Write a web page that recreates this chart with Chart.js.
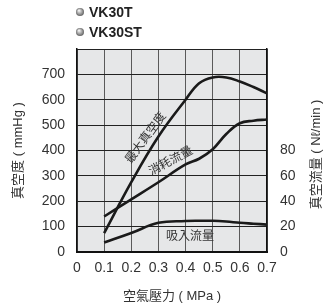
<!DOCTYPE html>
<html>
<head>
<meta charset="utf-8">
<script src="https://cdn.jsdelivr.net/npm/chart.js@4"></script>
<style>
  html, body { margin: 0; padding: 0; background: #fff; }
  #wrap { width: 325px; height: 308px; }
</style>
</head>
<body>
<div id="wrap"><canvas id="chart" width="325" height="308"></canvas></div>
<script>
// data
const models = ['VK30T', 'VK30ST'];
const pressure = [0.1, 0.2, 0.3, 0.4, 0.45, 0.5, 0.55, 0.6, 0.65, 0.7];     // MPa
const maxVacuum = [74, 275, 455, 600, 665, 688, 688, 672, 650, 625];       // mmHg
const consumptionFlow = [28, 41.5, 55, 69, 73.5, 81, 93, 101.5, 103.5, 104.4]; // Nl/min
const suctionFlow = [7.5, 15, 23, 24.4, 24.6, 24.6, 24, 23, 22.3, 21.6];   // Nl/min
const curveNames = ['最大真空度', '消耗流量', '吸入流量'];
const rightTitle = '真空流量 ( Nℓ/min )';

const FONT = "'Liberation Sans', 'Noto Sans CJK TC', Arial, sans-serif";
const TEXT = '#333';

const toPoints = (ys) => pressure.map((x, i) => ({ x, y: ys[i] }));

// where the curve names sit (data coords) and their angle
const curveLabels = [
  { text: curveNames[0], x: 0.254, y: 449, axis: 'y', angle: -54 },
  { text: curveNames[1], x: 0.346, y: 71.5, axis: 'y1', angle: -28 },
  { text: curveNames[2], x: 0.416, y: 12, axis: 'y1', angle: 0 }
];

const extras = {
  id: 'extras',
  afterDraw(chart) {
    const { ctx, scales, chartArea: a } = chart;
    ctx.save();
    // grey plot background, painted behind what is already there
    ctx.globalCompositeOperation = 'destination-over';
    ctx.fillStyle = '#e6e7e8';
    ctx.fillRect(a.left, a.top, a.right - a.left, a.bottom - a.top);
    ctx.globalCompositeOperation = 'source-over';

    ctx.fillStyle = TEXT;
    ctx.textAlign = 'center';
    ctx.textBaseline = 'middle';

    // curve names
    ctx.font = '12px ' + FONT;
    curveLabels.forEach(l => {
      const px = scales.x.getPixelForValue(l.x);
      const py = scales[l.axis].getPixelForValue(l.y);
      ctx.save();
      ctx.translate(px, py);
      ctx.rotate(l.angle * Math.PI / 180);
      ctx.fillText(l.text, 0, 0);
      ctx.restore();
    });

    // right axis title, reading bottom to top like the left one
    ctx.font = '13px ' + FONT;
    ctx.save();
    ctx.translate(scales.y1.right - 8.5, (a.top + a.bottom) / 2 + 4);
    ctx.rotate(-Math.PI / 2);
    ctx.fillText(rightTitle, 0, 0);
    ctx.restore();

    // model names at the top
    models.forEach((m, i) => {
      const cy = 12 + i * 20;
      const g = ctx.createRadialGradient(79, cy - 1.5, 0.5, 80, cy, 4.5);
      g.addColorStop(0, '#eee');
      g.addColorStop(1, '#555');
      ctx.fillStyle = g;
      ctx.beginPath();
      ctx.arc(80, cy, 4, 0, Math.PI * 2);
      ctx.fill();
      ctx.fillStyle = '#222';
      ctx.font = 'bold 14px ' + FONT;
      ctx.textAlign = 'left';
      ctx.fillText(m, 89, cy + 1);
    });
    ctx.restore();
  }
};

const lineStyle = {
  borderColor: '#1a1a1a',
  borderWidth: 2.6,
  pointRadius: 0,
  fill: false,
  tension: 0.4
};

new Chart(document.getElementById('chart'), {
  type: 'line',
  data: {
    datasets: [
      { ...lineStyle, label: curveNames[0], data: toPoints(maxVacuum), yAxisID: 'y' },
      { ...lineStyle, label: curveNames[1], data: toPoints(consumptionFlow), yAxisID: 'y1' },
      { ...lineStyle, label: curveNames[2], data: toPoints(suctionFlow), yAxisID: 'y1' }
    ]
  },
  options: {
    responsive: false,
    animation: false,
    layout: { padding: { top: 49 } },
    plugins: { legend: { display: false }, tooltip: { enabled: false } },
    scales: {
      x: {
        type: 'linear',
        min: 0,
        max: 0.7,
        afterFit: s => { s.height = 56; },
        ticks: {
          stepSize: 0.1,
          padding: 8,
          color: TEXT,
          font: { family: FONT, size: 14 },
          callback: v => String(+v.toFixed(1))
        },
        grid: { color: '#5a5a5a', lineWidth: 1, drawTicks: false },
        border: { color: '#111', width: 2 },
        title: {
          display: true,
          text: '空氣壓力 ( MPa )',
          color: TEXT,
          font: { family: FONT, size: 13 },
          padding: { top: 0, bottom: 4 }
        }
      },
      y: {
        position: 'left',
        min: 0,
        max: 800,
        afterFit: s => { s.width = 77; },
        ticks: {
          stepSize: 100,
          padding: 12,
          color: TEXT,
          font: { family: FONT, size: 14 },
          callback: v => (v >= 800 ? '' : v)
        },
        grid: { color: '#222', lineWidth: 1, drawTicks: false },
        border: { color: '#111', width: 1.5 },
        title: {
          display: true,
          text: '真空度 ( mmHg )',
          color: TEXT,
          font: { family: FONT, size: 13 },
          padding: { top: 11, bottom: 0 }
        }
      },
      y1: {
        position: 'right',
        min: 0,
        max: 160,
        afterFit: s => { s.width = 58; },
        ticks: {
          stepSize: 20,
          padding: 13,
          color: TEXT,
          font: { family: FONT, size: 14 },
          callback: v => (v > 80 ? '' : v)
        },
        grid: { display: false, drawTicks: false },
        border: { color: '#111', width: 1.5 }
      }
    }
  },
  plugins: [extras]
});
</script>
</body>
</html>
